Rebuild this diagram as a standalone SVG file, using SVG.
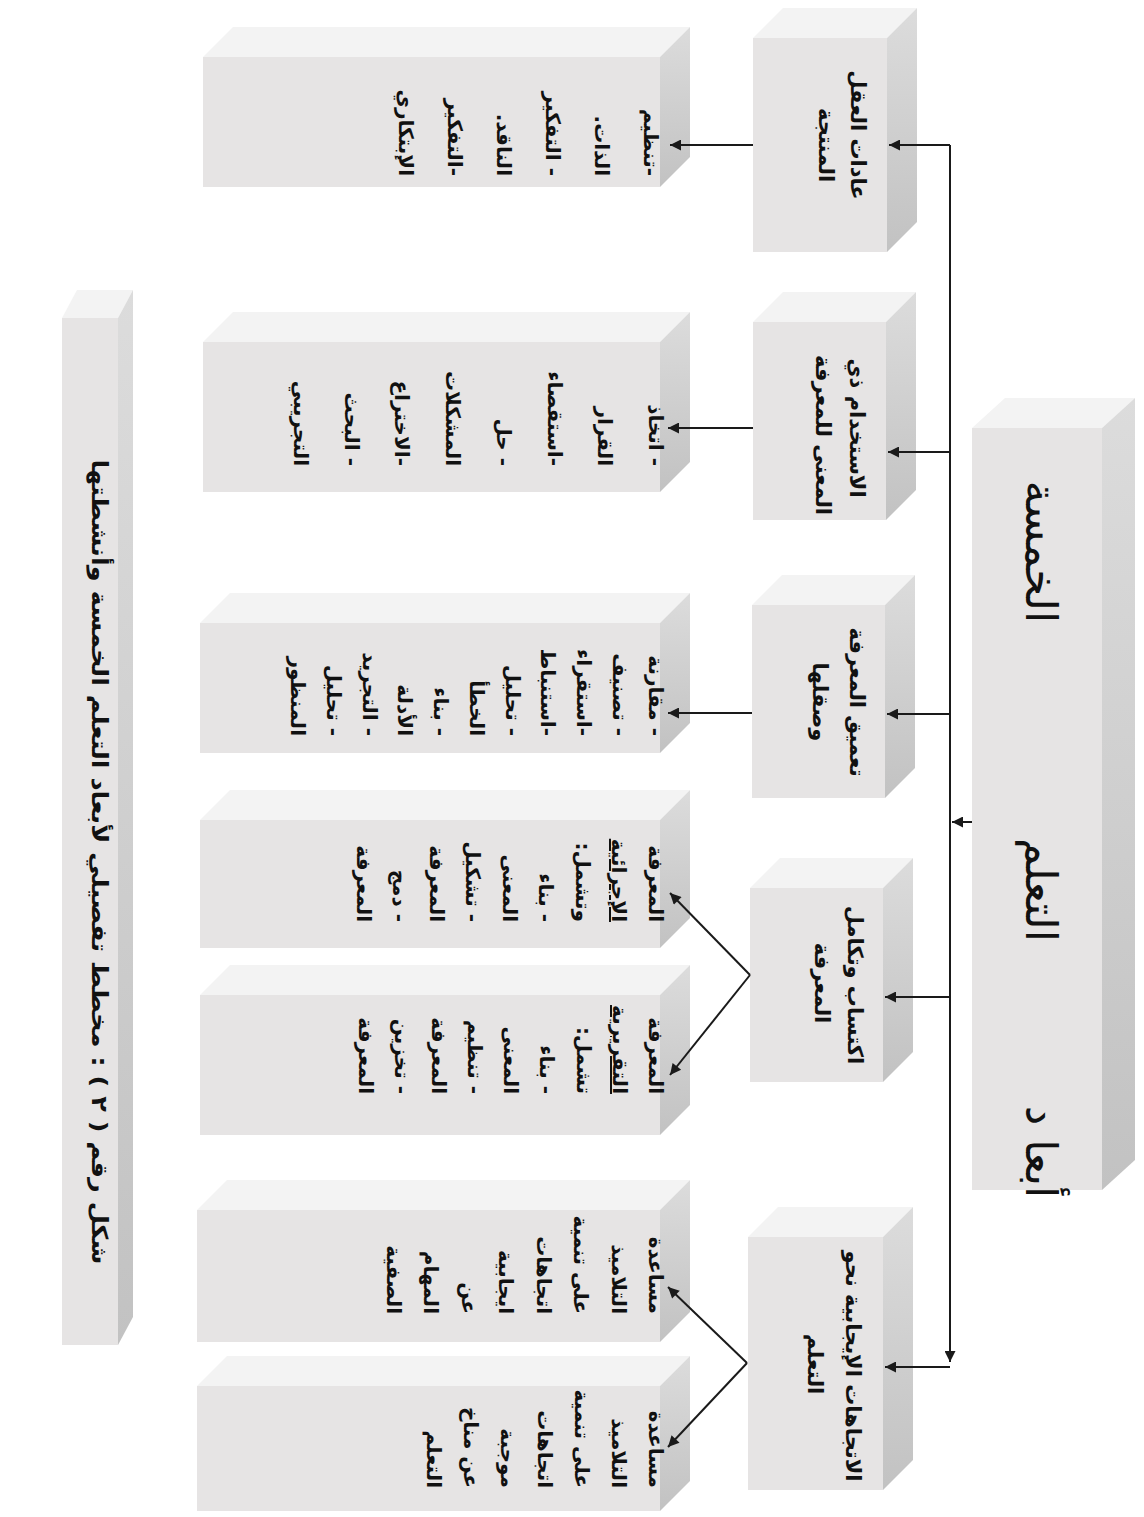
<svg xmlns="http://www.w3.org/2000/svg" width="1144" height="1517" viewBox="0 0 1144 1517">
<style>
.front{fill:#e6e4e4}
.side{fill:url(#sideG)}
.top{fill:#f3f3f3}
.ln{stroke:#1a1a1a;stroke-width:2;fill:none}
.dim{font-family:'DejaVu Sans',sans-serif;font-weight:bold;font-size:21px;fill:#111;text-anchor:middle}
.dt{font-family:'DejaVu Sans',sans-serif;font-weight:bold;font-size:20px;fill:#111;direction:rtl;text-anchor:start}
.ttl{font-family:'DejaVu Sans',sans-serif;font-size:44px;fill:#111;text-anchor:middle}
.cap{font-family:'DejaVu Sans',sans-serif;font-weight:bold;font-size:22px;fill:#111;text-anchor:middle}
</style>
<defs>
<linearGradient id="sideG" x1="0" y1="0" x2="0" y2="1">
<stop offset="0" stop-color="#dcdcdc"/>
<stop offset="1" stop-color="#c2c2c2"/>
</linearGradient>
<marker id="ah" viewBox="0 0 10 10" refX="10" refY="5" markerWidth="14" markerHeight="11" markerUnits="userSpaceOnUse" orient="auto">
<path d="M0,0 L10,5 L0,10 z" fill="#1a1a1a"/>
</marker>
</defs>
<rect width="1144" height="1517" fill="#ffffff"/>

<g id="title">
<polygon class="top" points="972,428 1005,398 1135,398 1102,428"/>
<polygon class="side" points="1102,428 1135,398 1135,1160 1102,1190"/>
<rect class="front" x="972" y="428" width="130" height="762"/>
<text class="ttl" transform="translate(1026,1152) rotate(90)">أبعا د</text>
<text class="ttl" transform="translate(1026,890) rotate(90)">التعلم</text>
<text class="ttl" transform="translate(1026,552) rotate(90)">الخمسة</text>
</g>

<g id="caption">
<polygon class="top" points="62,318 77,290 133,290 118,318"/>
<polygon class="side" points="118,318 133,290 133,1317 118,1345"/>
<rect class="front" x="62" y="318" width="56" height="1027"/>
<text class="cap" transform="translate(92,862) rotate(90)" direction="rtl" textLength="805" lengthAdjust="spacingAndGlyphs">شكل رقم ( ٢ ) : مخطط تفصيلي لأبعاد التعلم الخمسة وأنشطتها</text>
</g>

<g id="dim1">
<polygon class="top" points="753,38 783,8 917,8 887,38"/>
<polygon class="side" points="887,38 917,8 917,222 887,252"/>
<rect class="front" x="753" y="38" width="134" height="214"/>
<text class="dim" transform="translate(851,135) rotate(90)">عادات العقل</text>
<text class="dim" transform="translate(819,145) rotate(90)">المنتجة</text>
</g>
<g id="dim2">
<polygon class="top" points="753,322 783,292 916,292 886,322"/>
<polygon class="side" points="886,322 916,292 916,490 886,520"/>
<rect class="front" x="753" y="322" width="133" height="198"/>
<text class="dim" transform="translate(850,428) rotate(90)">الاستخدام ذي</text>
<text class="dim" transform="translate(816,435) rotate(90)">المعنى للمعرفة</text>
</g>
<g id="dim3">
<polygon class="top" points="752,605 782,575 915,575 885,605"/>
<polygon class="side" points="885,605 915,575 915,768 885,798"/>
<rect class="front" x="752" y="605" width="133" height="193"/>
<text class="dim" transform="translate(850,702) rotate(90)">تعميق المعرفة</text>
<text class="dim" transform="translate(813,702) rotate(90)">وصقلها</text>
</g>
<g id="dim4">
<polygon class="top" points="750,888 780,858 913,858 883,888"/>
<polygon class="side" points="883,888 913,858 913,1052 883,1082"/>
<rect class="front" x="750" y="888" width="133" height="194"/>
<text class="dim" transform="translate(848,985) rotate(90)">اكتساب وتكامل</text>
<text class="dim" transform="translate(815,983) rotate(90)">المعرفة</text>
</g>
<g id="dim5">
<polygon class="top" points="748,1237 778,1207 913,1207 883,1237"/>
<polygon class="side" points="883,1237 913,1207 913,1460 883,1490"/>
<rect class="front" x="748" y="1237" width="135" height="253"/>
<text class="dim" transform="translate(846,1366) rotate(90)">الاتجاهات الإيجابية نحو</text>
<text class="dim" transform="translate(808,1364) rotate(90)">التعلم</text>
</g>

<g id="det1">
<polygon class="top" points="203,57 233,27 690,27 660,57"/>
<polygon class="side" points="660,57 690,27 690,157 660,187"/>
<rect class="front" x="203" y="57" width="457" height="130"/>
<text class="dt" transform="translate(644,176) rotate(90)">-تنظيم</text>
<text class="dt" transform="translate(595,176) rotate(90)">الذات.</text>
<text class="dt" transform="translate(546,176) rotate(90)">- التفكير</text>
<text class="dt" transform="translate(497,176) rotate(90)">الناقد.</text>
<text class="dt" transform="translate(448,176) rotate(90)">-التفكير</text>
<text class="dt" transform="translate(399,176) rotate(90)">الإبتكاري</text>
</g>
<g id="det2">
<polygon class="top" points="203,342 233,312 690,312 660,342"/>
<polygon class="side" points="660,342 690,312 690,462 660,492"/>
<rect class="front" x="203" y="342" width="457" height="150"/>
<text class="dt" transform="translate(649,466) rotate(90)">- اتخاذ</text>
<text class="dt" transform="translate(598,466) rotate(90)">القرار</text>
<text class="dt" transform="translate(548,466) rotate(90)">-استقصاء</text>
<text class="dt" transform="translate(497,466) rotate(90)">- حل</text>
<text class="dt" transform="translate(446,466) rotate(90)">المشكلات</text>
<text class="dt" transform="translate(395,466) rotate(90)">-الاختراع</text>
<text class="dt" transform="translate(345,466) rotate(90)">- البحث</text>
<text class="dt" transform="translate(294,466) rotate(90)">التجريبي</text>
</g>
<g id="det3">
<polygon class="top" points="200,623 230,593 690,593 660,623"/>
<polygon class="side" points="660,623 690,593 690,723 660,753"/>
<rect class="front" x="200" y="623" width="460" height="130"/>
<text class="dt" transform="translate(649,736) rotate(90)">- مقارنة</text>
<text class="dt" transform="translate(613,736) rotate(90)">- تصنيف</text>
<text class="dt" transform="translate(577,736) rotate(90)">-استقراء</text>
<text class="dt" transform="translate(541,736) rotate(90)">-استنباط</text>
<text class="dt" transform="translate(506,736) rotate(90)">- تحليل</text>
<text class="dt" transform="translate(470,736) rotate(90)">الخطأ</text>
<text class="dt" transform="translate(434,736) rotate(90)">- بناء</text>
<text class="dt" transform="translate(398,736) rotate(90)">الأدلة</text>
<text class="dt" transform="translate(363,736) rotate(90)">- التجريد</text>
<text class="dt" transform="translate(327,736) rotate(90)">- تحليل</text>
<text class="dt" transform="translate(291,736) rotate(90)">المنظور</text>
</g>
<g id="det4a">
<polygon class="top" points="200,820 230,790 690,790 660,820"/>
<polygon class="side" points="660,820 690,790 690,918 660,948"/>
<rect class="front" x="200" y="820" width="460" height="128"/>
<text class="dt" transform="translate(649,922) rotate(90)">المعرفة</text>
<text class="dt" transform="translate(612,922) rotate(90)" text-decoration="underline">الإجرائية</text>
<text class="dt" transform="translate(576,922) rotate(90)">وتشمل:</text>
<text class="dt" transform="translate(539,922) rotate(90)">- بناء</text>
<text class="dt" transform="translate(503,922) rotate(90)">المعنى</text>
<text class="dt" transform="translate(466,922) rotate(90)">- تشكيل</text>
<text class="dt" transform="translate(430,922) rotate(90)">المعرفة</text>
<text class="dt" transform="translate(393,922) rotate(90)">- دمج</text>
<text class="dt" transform="translate(357,922) rotate(90)">المعرفة</text>
</g>
<g id="det4b">
<polygon class="top" points="200,995 230,965 690,965 660,995"/>
<polygon class="side" points="660,995 690,965 690,1105 660,1135"/>
<rect class="front" x="200" y="995" width="460" height="140"/>
<text class="dt" transform="translate(649,1094) rotate(90)">المعرفة</text>
<text class="dt" transform="translate(613,1094) rotate(90)" text-decoration="underline">التقريرية</text>
<text class="dt" transform="translate(577,1094) rotate(90)">تشمل:</text>
<text class="dt" transform="translate(540,1094) rotate(90)">- بناء</text>
<text class="dt" transform="translate(504,1094) rotate(90)">المعنى</text>
<text class="dt" transform="translate(468,1094) rotate(90)">- تنظيم</text>
<text class="dt" transform="translate(432,1094) rotate(90)">المعرفة</text>
<text class="dt" transform="translate(395,1094) rotate(90)">- تخزين</text>
<text class="dt" transform="translate(359,1094) rotate(90)">المعرفة</text>
</g>
<g id="det5a">
<polygon class="top" points="197,1210 227,1180 690,1180 660,1210"/>
<polygon class="side" points="660,1210 690,1180 690,1312 660,1342"/>
<rect class="front" x="197" y="1210" width="463" height="132"/>
<text class="dt" transform="translate(649,1314) rotate(90)">مساعدة</text>
<text class="dt" transform="translate(612,1314) rotate(90)">التلاميذ</text>
<text class="dt" transform="translate(574,1314) rotate(90)">على تنمية</text>
<text class="dt" transform="translate(537,1314) rotate(90)">اتجاهات</text>
<text class="dt" transform="translate(499,1314) rotate(90)">ايجابية</text>
<text class="dt" transform="translate(462,1314) rotate(90)">عن</text>
<text class="dt" transform="translate(424,1314) rotate(90)">المهام</text>
<text class="dt" transform="translate(387,1314) rotate(90)">الصفية</text>
</g>
<g id="det5b">
<polygon class="top" points="197,1386 227,1356 690,1356 660,1386"/>
<polygon class="side" points="660,1386 690,1356 690,1481 660,1511"/>
<rect class="front" x="197" y="1386" width="463" height="125"/>
<text class="dt" transform="translate(649,1488) rotate(90)">مساعدة</text>
<text class="dt" transform="translate(612,1488) rotate(90)">التلاميذ</text>
<text class="dt" transform="translate(575,1488) rotate(90)">على تنمية</text>
<text class="dt" transform="translate(538,1488) rotate(90)">اتجاهات</text>
<text class="dt" transform="translate(501,1488) rotate(90)">موجبة</text>
<text class="dt" transform="translate(464,1488) rotate(90)">عن مناخ</text>
<text class="dt" transform="translate(427,1488) rotate(90)">التعلم</text>
</g>

<g id="connectors">
<path class="ln" d="M950,145 V1362" marker-end="url(#ah)"/>
<path class="ln" d="M950,145 H889" marker-end="url(#ah)"/>
<path class="ln" d="M950,452 H888" marker-end="url(#ah)"/>
<path class="ln" d="M950,714 H887" marker-end="url(#ah)"/>
<path class="ln" d="M950,997 H885" marker-end="url(#ah)"/>
<path class="ln" d="M950,1367 H885" marker-end="url(#ah)"/>
<path class="ln" d="M972,822 H952" marker-end="url(#ah)"/>
<path class="ln" d="M753,145 H670" marker-end="url(#ah)"/>
<path class="ln" d="M753,428 H668" marker-end="url(#ah)"/>
<path class="ln" d="M752,713 H668" marker-end="url(#ah)"/>
<path class="ln" d="M750,975 L670,893" marker-end="url(#ah)"/>
<path class="ln" d="M750,975 L670,1075" marker-end="url(#ah)"/>
<path class="ln" d="M747,1363 L668,1287" marker-end="url(#ah)"/>
<path class="ln" d="M747,1363 L668,1447" marker-end="url(#ah)"/>
</g>
</svg>
